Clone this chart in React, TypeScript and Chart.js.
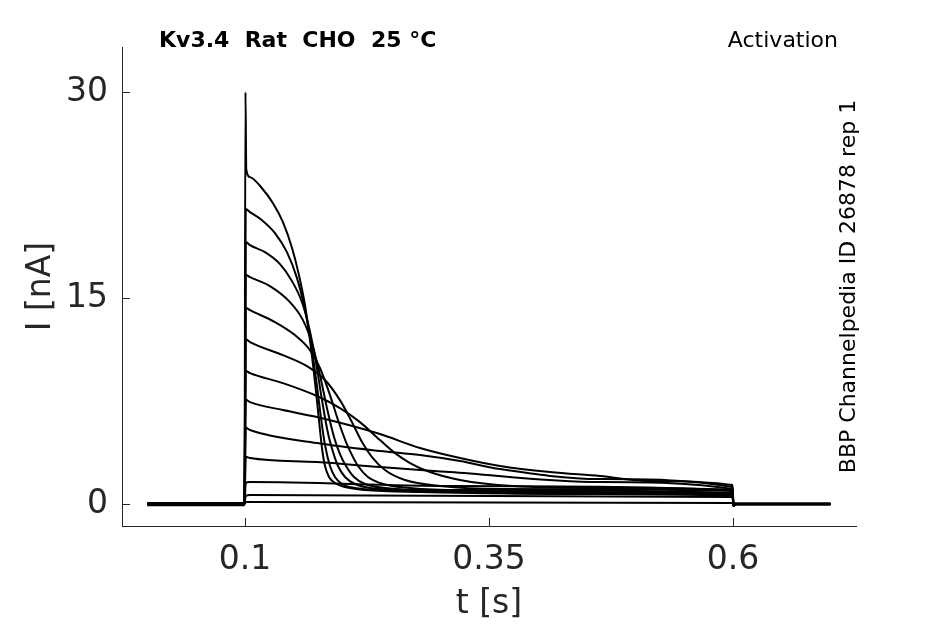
import React, { useEffect, useRef } from 'react';
import { Chart, registerables } from 'chart.js';

Chart.register(...registerables);

// Axis ticks
const xTickValues = [0.1, 0.35, 0.6];
const xTickLabels = ['0.1', '0.35', '0.6'];
const yTickValues = [0, 15, 30];
const yTickLabels = ['0', '15', '30'];

// Texts
const headerTitle = 'Kv3.4  Rat  CHO  25 \u00B0C';
const protocolName = 'Activation';
const sideNote = 'BBP Channelpedia ID 26878 rep 1';
const xTitle = 't [s]';
const yTitle = 'I [nA]';

// Current traces: [time (s), current (nA)]
const trace1 = [[0, 0.05], [0.0995, 0.05], [0.1005, 30], [0.1013, 24.4], [0.1051, 23.82], [0.1174, 23.01], [0.1287, 21.92], [0.1389, 20.54], [0.1482, 18.65], [0.1553, 16.68], [0.1615, 14.49], [0.1666, 11.94], [0.1717, 8.89], [0.1758, 6.12], [0.1789, 4.08], [0.182, 2.77], [0.1861, 1.97], [0.1922, 1.53], [0.2025, 1.24], [0.223, 1.02], [0.2793, 0.87], [0.4637, 0.73], [0.5995, 0.58], [0.6005, -0.15], [0.602, 0], [0.7, 0]];
const trace2 = [[0, -0.05], [0.0995, -0.05], [0.1008, 21.5], [0.1051, 21.27], [0.1174, 20.68], [0.1307, 19.74], [0.143, 18.35], [0.1533, 16.46], [0.1605, 14.49], [0.1666, 12.16], [0.1727, 9.18], [0.1779, 6.26], [0.182, 4.3], [0.1871, 2.77], [0.1922, 1.97], [0.1994, 1.46], [0.2127, 1.17], [0.2383, 1.02], [0.31, 0.87], [0.4637, 0.73], [0.5995, 0.66], [0.6005, -0.15], [0.602, 0.05], [0.7, 0.05]];
const trace3 = [[0, 0], [0.0995, 0], [0.1008, 19.1], [0.1051, 18.86], [0.1205, 18.35], [0.1359, 17.48], [0.1482, 16.24], [0.1584, 14.71], [0.1656, 12.89], [0.1727, 10.34], [0.1789, 7.57], [0.185, 5.17], [0.1902, 3.79], [0.1953, 2.77], [0.2025, 1.97], [0.2127, 1.46], [0.2281, 1.17], [0.2588, 1.02], [0.3613, 0.87], [0.5995, 0.73], [0.6005, -0.15], [0.602, -0.05], [0.7, -0.05]];
const trace4 = [[0, 0.08], [0.0995, 0.08], [0.1008, 16.7], [0.1051, 16.53], [0.1256, 15.88], [0.1461, 14.71], [0.1594, 13.4], [0.1686, 11.73], [0.1768, 9.4], [0.184, 6.99], [0.1912, 4.88], [0.1973, 3.64], [0.2035, 2.77], [0.2117, 1.97], [0.223, 1.46], [0.2434, 1.17], [0.2793, 1.02], [0.4125, 0.87], [0.5995, 0.73], [0.6005, -0.15], [0.602, 0], [0.7, 0]];
const trace5 = [[0, -0.08], [0.0995, -0.08], [0.1008, 14.3], [0.1051, 14.13], [0.1307, 13.26], [0.1512, 12.31], [0.1666, 11.22], [0.1768, 9.91], [0.1871, 7.94], [0.1953, 6.12], [0.2035, 4.52], [0.2107, 3.42], [0.2158, 2.77], [0.226, 1.97], [0.2414, 1.46], [0.2691, 1.17], [0.3203, 1.02], [0.5995, 0.8], [0.6005, -0.15], [0.602, 0], [0.7, 0]];
const trace6 = [[0, 0], [0.0995, 0], [0.1008, 12.0], [0.1051, 11.8], [0.1389, 10.85], [0.1635, 10.05], [0.182, 9.04], [0.1973, 7.57], [0.2096, 5.97], [0.2199, 4.52], [0.2301, 3.42], [0.2434, 2.48], [0.2639, 1.75], [0.2998, 1.31], [0.3613, 1.09], [0.5995, 0.95], [0.6005, -0.15], [0.602, 0], [0.7, 0]];
const trace7 = [[0, 0.04], [0.0995, 0.04], [0.1008, 9.7], [0.1051, 9.54], [0.1389, 8.81], [0.1738, 7.87], [0.1973, 6.99], [0.2178, 5.97], [0.2383, 4.66], [0.2537, 3.71], [0.2691, 2.99], [0.2895, 2.33], [0.3203, 1.75], [0.3746, 1.31], [0.4637, 1.17], [0.5995, 1.02], [0.6005, -0.15], [0.602, 0], [0.7, 0]];
const trace8 = [[0, 0], [0.0995, 0], [0.1008, 7.6], [0.1051, 7.43], [0.1389, 6.85], [0.1738, 6.34], [0.2383, 5.1], [0.2793, 4.08], [0.3203, 3.35], [0.3613, 2.77], [0.4125, 2.33], [0.4637, 2.04], [0.515, 1.68], [0.5995, 1.38], [0.6005, -0.15], [0.602, 0], [0.7, 0]];
const trace9 = [[0, -0.04], [0.0995, -0.04], [0.1008, 5.55], [0.1051, 5.39], [0.1738, 4.44], [0.2383, 3.86], [0.2793, 3.57], [0.3203, 3.13], [0.3613, 2.55], [0.4637, 1.82], [0.5995, 1.24], [0.6005, -0.15], [0.602, 0], [0.7, 0]];
const trace10 = [[0, 0], [0.0995, 0], [0.1008, 3.45], [0.1051, 3.35], [0.1738, 3.06], [0.2383, 2.69], [0.31, 2.33], [0.4637, 1.6], [0.5995, 1.09], [0.6005, -0.15], [0.602, 0], [0.7, 0]];
const trace11 = [[0, 0], [0.0995, 0], [0.1008, 1.55], [0.1051, 1.6], [0.31, 1.31], [0.5995, 1.02], [0.6005, -0.15], [0.602, 0], [0.7, 0]];
const trace12 = [[0, 0], [0.0995, 0], [0.1008, 0.6], [0.1051, 0.66], [0.5995, 0.51], [0.6005, -0.1], [0.602, 0], [0.7, 0]];
const trace13 = [[0, 0], [0.0995, 0], [0.1008, 0.15], [0.1051, 0.15], [0.5995, 0.07], [0.6005, 0], [0.7, 0]];

const traces = [trace1, trace2, trace3, trace4, trace5, trace6, trace7, trace8, trace9, trace10, trace11, trace12, trace13];

const FONT = '"DejaVu Sans", "Liberation Sans", sans-serif';
const AXIS_COLOR = '#262626';

const decorPlugin = {
  id: 'decor',
  afterDraw(chart: any) {
    const ctx = chart.ctx as CanvasRenderingContext2D;
    const xs = chart.scales.x;
    const ys = chart.scales.y;
    const a = chart.chartArea;
    ctx.save();
    // inward tick marks
    ctx.strokeStyle = AXIS_COLOR;
    ctx.lineWidth = 1;
    xTickValues.forEach((v) => {
      const px = Math.round(xs.getPixelForValue(v)) + 0.5;
      ctx.beginPath();
      ctx.moveTo(px, a.bottom);
      ctx.lineTo(px, a.bottom - 8);
      ctx.stroke();
    });
    yTickValues.forEach((v) => {
      const py = Math.round(ys.getPixelForValue(v)) + 0.5;
      ctx.beginPath();
      ctx.moveTo(a.left, py);
      ctx.lineTo(a.left + 8, py);
      ctx.stroke();
    });

    // header texts
    ctx.fillStyle = '#000';
    ctx.textBaseline = 'alphabetic';
    ctx.font = 'bold 22px ' + FONT;
    ctx.textAlign = 'left';
    ctx.fillText(headerTitle, a.left + 37, a.top);
    ctx.font = '22px ' + FONT;
    ctx.textAlign = 'right';
    ctx.fillText(protocolName, a.right - 18, a.top);

    // side note (vertical)
    ctx.save();
    ctx.translate(a.right - 1, (a.top + a.bottom) / 2);
    ctx.rotate(-Math.PI / 2);
    ctx.textAlign = 'center';
    ctx.font = '22px ' + FONT;
    ctx.fillText(sideNote, 0, 0);
    ctx.restore();

    // axis titles
    ctx.fillStyle = AXIS_COLOR;
    ctx.font = '33px ' + FONT;
    ctx.textAlign = 'center';
    ctx.fillText(xTitle, (a.left + a.right) / 2, a.bottom + 87);
    ctx.save();
    ctx.translate(a.left - 72, (a.top + a.bottom) / 2);
    ctx.rotate(-Math.PI / 2);
    ctx.fillText(yTitle, 0, 0);
    ctx.restore();

    ctx.restore();
  },
};

export default function App() {
  const ref = useRef<HTMLCanvasElement>(null);
  useEffect(() => {
    if (!ref.current) return;
    const chart = new Chart(ref.current, {
      type: 'line',
      data: {
        datasets: traces.map((tr, i) => ({
          label: 'trace ' + (i + 1),
          data: tr.map(([x, y]) => ({ x, y })),
          borderColor: '#000',
          borderWidth: 2,
          pointRadius: 0,
          fill: false,
          cubicInterpolationMode: 'monotone' as const,
        })),
      },
      options: {
        animation: false,
        responsive: false,
        events: [],
        layout: { padding: { left: 0, top: 47, right: 89, bottom: 0 } },
        plugins: { legend: { display: false }, tooltip: { enabled: false }, title: { display: false } },
        scales: {
          x: {
            type: 'linear',
            min: -0.026,
            max: 0.726,
            afterBuildTicks: (scale: any) => {
              scale.ticks = xTickValues.map((v) => ({ value: v }));
            },
            afterFit: (scale: any) => {
              scale.height = 98;
            },
            grid: { display: false, drawTicks: false },
            border: { display: true, color: AXIS_COLOR, width: 1 },
            ticks: {
              padding: 15,
              maxRotation: 0,
              autoSkip: false,
              color: AXIS_COLOR,
              font: { family: FONT, size: 33 },
              callback: (_v: any, i: number) => xTickLabels[i],
            },
          },
          y: {
            type: 'linear',
            min: -1.6,
            max: 33.3,
            afterBuildTicks: (scale: any) => {
              scale.ticks = yTickValues.map((v) => ({ value: v }));
            },
            afterFit: (scale: any) => {
              scale.width = 122;
            },
            grid: { display: false, drawTicks: false },
            border: { display: true, color: AXIS_COLOR, width: 1 },
            ticks: {
              padding: 14,
              autoSkip: false,
              color: AXIS_COLOR,
              font: { family: FONT, size: 33 },
              callback: (_v: any, i: number) => yTickLabels[i],
            },
          },
        },
      },
      plugins: [decorPlugin],
    });
    return () => chart.destroy();
  }, []);
  return (
    <div style={{ position: 'fixed', left: 0, top: 0, width: 945, height: 624, background: '#fff' }}>
      <canvas ref={ref} width={945} height={624} style={{ display: 'block' }} />
    </div>
  );
}
